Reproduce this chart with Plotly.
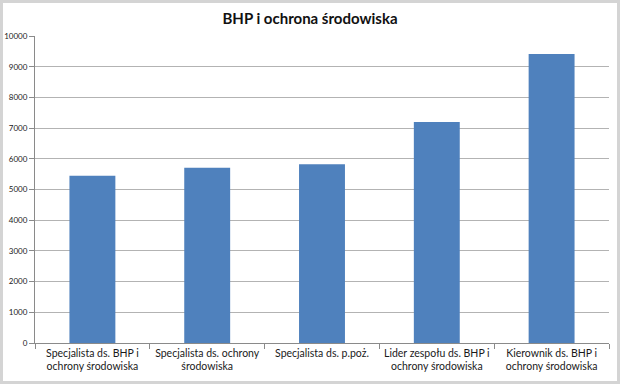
import plotly.graph_objects as go

categories = [
    "Specjalista ds. BHP i<br>ochrony środowiska",
    "Specjalista ds. ochrony<br>środowiska",
    "Specjalista ds. p.poż.",
    "Lider zespołu ds. BHP i<br>ochrony środowiska",
    "Kierownik ds. BHP i<br>ochrony środowiska",
]
values = [5450, 5710, 5820, 7200, 9410]
y_ticks = [0, 1000, 2000, 3000, 4000, 5000, 6000, 7000, 8000, 9000, 10000]
y_tick_labels = [str(v) for v in y_ticks]

W, H = 620, 384
ml, mr, mt, mb = 35, 11, 36, 41
pw, ph = W - ml - mr, H - mt - mb

fig = go.Figure(go.Bar(x=categories, y=values, marker=dict(color="#4f81bd", line=dict(width=0)), width=0.4))

fig.update_layout(
    width=W, height=H,
    margin=dict(l=ml, r=mr, t=mt, b=mb),
    paper_bgcolor="white", plot_bgcolor="white",
    font=dict(family="Lato, Carlito, Calibri, sans-serif", color="#1a1a1a"),
    title=dict(text="<b>BHP i ochrona środowiska</b>", x=0.5, xanchor="center", y=1 - 19 / H, yanchor="middle",
               font=dict(size=15, color="#111111")),
    showlegend=False,
    bargap=0.6,
)
fig.update_yaxes(range=[0, 10000], tickvals=y_ticks, ticktext=y_tick_labels, showgrid=True,
                 gridcolor="#b3b3b3", gridwidth=1, automargin=False,
                 showline=True, linecolor="#8a8a8a", ticks="outside", ticklen=5, tickcolor="#8a8a8a",
                 tickfont=dict(size=8), zeroline=False, fixedrange=True)
fig.update_xaxes(showline=True, linecolor="#8a8a8a", ticks="outside", tickson="boundaries", ticklen=5,
                 tickcolor="#8a8a8a", tickfont=dict(size=10.5), showgrid=False, automargin=False,
                 fixedrange=True)

# outer frame
fig.add_shape(type="rect", xref="paper", yref="paper",
              x0=-(ml - 1.5) / pw, x1=1 + (mr - 1.5) / pw, y0=-(mb - 1.5) / ph, y1=1 + (mt - 1.5) / ph,
              line=dict(color="#d4d4d4", width=3), layer="below")

fig.write_html("out.html", config={"displayModeBar": False},
               post_script="document.body.style.margin='0';")
